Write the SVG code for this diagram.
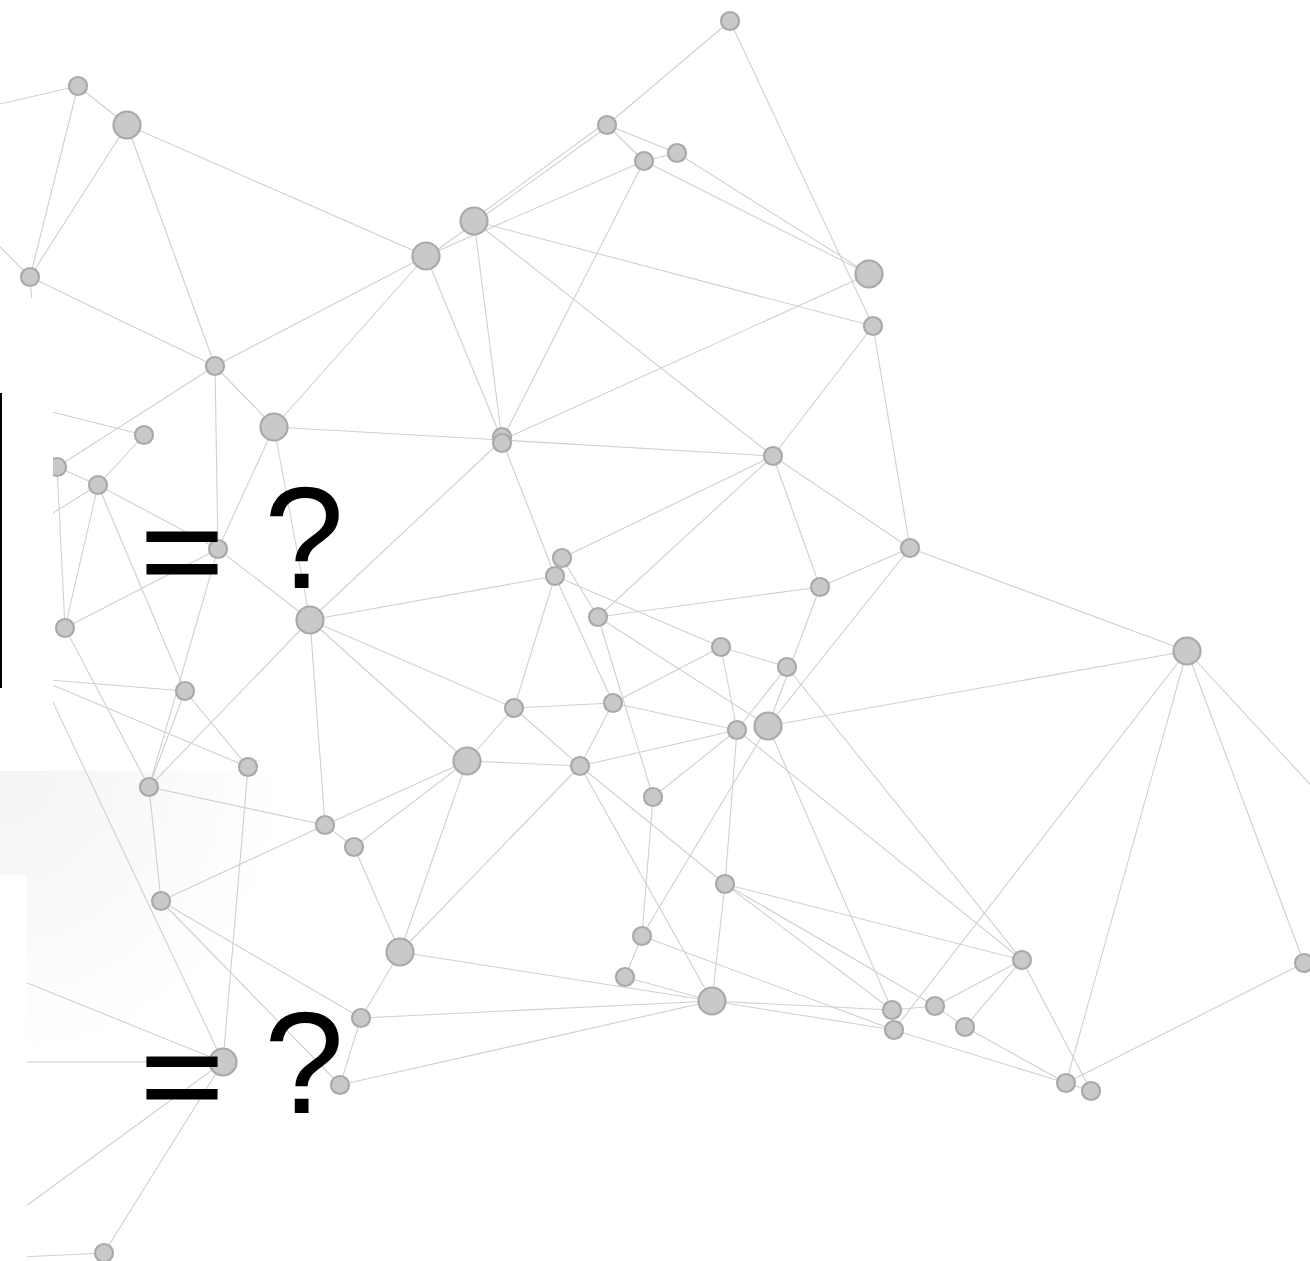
<svg xmlns="http://www.w3.org/2000/svg" width="1310" height="1261" viewBox="0 0 1310 1261">
<defs>
<radialGradient id="shade" gradientUnits="userSpaceOnUse" cx="0" cy="771" r="290">
<stop offset="0" stop-color="#f4f4f4"/>
<stop offset="0.5" stop-color="#f9f9f9"/>
<stop offset="1" stop-color="#ffffff"/>
</radialGradient>
</defs>
<style>
.e{stroke:#d0d0d0;stroke-width:1.1;fill:none}
.s{fill:#c9c9c9;stroke:#a9a9a9;stroke-width:2.2}
.t{font-family:"Liberation Sans",Arial,sans-serif;font-size:144px;fill:#000}
.eq{stroke:#000;stroke-width:1.2}
</style>
<rect width="1310" height="1261" fill="#fff"/>
<rect x="0" y="771" width="300" height="300" fill="url(#shade)"/>
<g id="connectors" class="e">
<line x1="730" y1="21" x2="607" y2="125"/>
<line x1="730" y1="21" x2="873" y2="326"/>
<line x1="873" y1="326" x2="910" y2="548"/>
<line x1="607" y1="125" x2="644" y2="161"/>
<line x1="607" y1="125" x2="677" y2="153"/>
<line x1="605" y1="123" x2="474" y2="219"/>
<line x1="607" y1="127" x2="426" y2="258"/>
<line x1="644" y1="161" x2="677" y2="153"/>
<line x1="644" y1="161" x2="426" y2="256"/>
<line x1="644" y1="161" x2="869" y2="274"/>
<line x1="677" y1="153" x2="869" y2="274"/>
<line x1="644" y1="161" x2="502" y2="440"/>
<line x1="474" y1="221" x2="873" y2="326"/>
<line x1="474" y1="221" x2="773" y2="456"/>
<line x1="474" y1="221" x2="502" y2="440"/>
<line x1="426" y1="256" x2="502" y2="440"/>
<line x1="869" y1="274" x2="502" y2="440"/>
<line x1="873" y1="326" x2="773" y2="456"/>
<line x1="502" y1="440" x2="773" y2="456"/>
<line x1="274" y1="427" x2="502" y2="440"/>
<line x1="502" y1="440" x2="310" y2="620"/>
<line x1="502" y1="440" x2="555" y2="576"/>
<line x1="773" y1="456" x2="562" y2="558"/>
<line x1="773" y1="456" x2="598" y2="617"/>
<line x1="773" y1="456" x2="820" y2="587"/>
<line x1="773" y1="456" x2="910" y2="548"/>
<line x1="910" y1="548" x2="820" y2="587"/>
<line x1="910" y1="548" x2="768" y2="726"/>
<line x1="910" y1="548" x2="1187" y2="651"/>
<line x1="562" y1="558" x2="598" y2="617"/>
<line x1="555" y1="576" x2="310" y2="620"/>
<line x1="555" y1="576" x2="514" y2="708"/>
<line x1="555" y1="576" x2="613" y2="703"/>
<line x1="555" y1="576" x2="721" y2="647"/>
<line x1="598" y1="617" x2="820" y2="587"/>
<line x1="598" y1="617" x2="768" y2="726"/>
<line x1="598" y1="617" x2="653" y2="797"/>
<line x1="721" y1="647" x2="787" y2="667"/>
<line x1="721" y1="647" x2="737" y2="730"/>
<line x1="721" y1="647" x2="613" y2="703"/>
<line x1="820" y1="587" x2="768" y2="726"/>
<line x1="787" y1="667" x2="737" y2="730"/>
<line x1="787" y1="667" x2="1022" y2="960"/>
<line x1="514" y1="708" x2="613" y2="703"/>
<line x1="514" y1="708" x2="467" y2="761"/>
<line x1="514" y1="708" x2="580" y2="766"/>
<line x1="613" y1="703" x2="580" y2="766"/>
<line x1="613" y1="703" x2="737" y2="730"/>
<line x1="467" y1="761" x2="580" y2="766"/>
<line x1="737" y1="730" x2="580" y2="766"/>
<line x1="737" y1="730" x2="653" y2="797"/>
<line x1="653" y1="797" x2="642" y2="936"/>
<line x1="737" y1="730" x2="725" y2="884"/>
<line x1="737" y1="730" x2="1022" y2="960"/>
<line x1="768" y1="726" x2="1187" y2="651"/>
<line x1="768" y1="726" x2="642" y2="936"/>
<line x1="768" y1="726" x2="892" y2="1010"/>
<line x1="310" y1="620" x2="514" y2="708"/>
<line x1="310" y1="620" x2="467" y2="761"/>
<line x1="467" y1="761" x2="325" y2="825"/>
<line x1="467" y1="761" x2="354" y2="847"/>
<line x1="467" y1="761" x2="400" y2="952"/>
<line x1="580" y1="766" x2="400" y2="952"/>
<line x1="580" y1="766" x2="712" y2="1001"/>
<line x1="580" y1="766" x2="725" y2="884"/>
<line x1="642" y1="936" x2="625" y2="977"/>
<line x1="642" y1="936" x2="894" y2="1030"/>
<line x1="625" y1="977" x2="712" y2="1001"/>
<line x1="725" y1="884" x2="712" y2="1001"/>
<line x1="725" y1="884" x2="1022" y2="960"/>
<line x1="725" y1="884" x2="892" y2="1010"/>
<line x1="725" y1="884" x2="935" y2="1006"/>
<line x1="400" y1="952" x2="712" y2="1001"/>
<line x1="400" y1="952" x2="361" y2="1018"/>
<line x1="354" y1="847" x2="400" y2="952"/>
<line x1="712" y1="1001" x2="361" y2="1018"/>
<line x1="361" y1="1018" x2="340" y2="1085"/>
<line x1="712" y1="1001" x2="340" y2="1085"/>
<line x1="161" y1="901" x2="361" y2="1018"/>
<line x1="161" y1="901" x2="340" y2="1085"/>
<line x1="325" y1="825" x2="354" y2="847"/>
<line x1="149" y1="787" x2="325" y2="825"/>
<line x1="325" y1="825" x2="161" y2="901"/>
<line x1="310" y1="620" x2="325" y2="825"/>
<line x1="712" y1="1001" x2="892" y2="1010"/>
<line x1="712" y1="1001" x2="894" y2="1030"/>
<line x1="894" y1="1030" x2="1066" y2="1083"/>
<line x1="892" y1="1010" x2="935" y2="1006"/>
<line x1="935" y1="1006" x2="965" y2="1027"/>
<line x1="935" y1="1006" x2="1022" y2="960"/>
<line x1="1022" y1="960" x2="965" y2="1027"/>
<line x1="965" y1="1027" x2="1066" y2="1083"/>
<line x1="1022" y1="960" x2="1091" y2="1091"/>
<line x1="1066" y1="1083" x2="1091" y2="1091"/>
<line x1="894" y1="1030" x2="1187" y2="651"/>
<line x1="1066" y1="1083" x2="1187" y2="651"/>
<line x1="1187" y1="651" x2="1304" y2="963"/>
<line x1="1187" y1="651" x2="1330" y2="806"/>
<line x1="1304" y1="963" x2="1066" y2="1083"/>
<line x1="78" y1="86" x2="0" y2="104"/>
<line x1="78" y1="86" x2="127" y2="125"/>
<line x1="78" y1="86" x2="30" y2="277"/>
<line x1="127" y1="125" x2="30" y2="277"/>
<line x1="127" y1="125" x2="215" y2="366"/>
<line x1="127" y1="125" x2="426" y2="256"/>
<line x1="30" y1="277" x2="0" y2="247"/>
<line x1="30" y1="277" x2="34" y2="330"/>
<line x1="30" y1="277" x2="215" y2="366"/>
<line x1="215" y1="366" x2="426" y2="256"/>
<line x1="215" y1="366" x2="274" y2="427"/>
<line x1="215" y1="366" x2="218" y2="549"/>
<line x1="215" y1="366" x2="57" y2="467"/>
<line x1="426" y1="256" x2="274" y2="427"/>
<line x1="0" y1="399" x2="144" y2="435"/>
<line x1="144" y1="435" x2="98" y2="485"/>
<line x1="57" y1="467" x2="98" y2="485"/>
<line x1="57" y1="467" x2="65" y2="628"/>
<line x1="98" y1="485" x2="0" y2="546"/>
<line x1="98" y1="485" x2="218" y2="549"/>
<line x1="98" y1="485" x2="185" y2="691"/>
<line x1="185" y1="691" x2="248" y2="767"/>
<line x1="98" y1="485" x2="65" y2="628"/>
<line x1="65" y1="628" x2="218" y2="549"/>
<line x1="218" y1="549" x2="274" y2="427"/>
<line x1="218" y1="549" x2="310" y2="620"/>
<line x1="274" y1="427" x2="310" y2="620"/>
<line x1="218" y1="549" x2="149" y2="787"/>
<line x1="310" y1="620" x2="149" y2="787"/>
<line x1="0" y1="676" x2="185" y2="691"/>
<line x1="0" y1="663" x2="248" y2="767"/>
<line x1="185" y1="691" x2="149" y2="787"/>
<line x1="65" y1="628" x2="149" y2="787"/>
<line x1="149" y1="787" x2="161" y2="901"/>
<line x1="248" y1="767" x2="223" y2="1062"/>
<line x1="0" y1="590" x2="223" y2="1062"/>
<line x1="0" y1="972" x2="223" y2="1062"/>
<line x1="0" y1="1062" x2="223" y2="1062"/>
<line x1="0" y1="1225" x2="223" y2="1062"/>
<line x1="104" y1="1253" x2="223" y2="1062"/>
<line x1="104" y1="1253" x2="0" y2="1258"/>
</g>
<g id="n1"><circle class="s" cx="730" cy="21" r="9"/></g>
<g id="n2"><circle class="s" cx="78" cy="86" r="9"/></g>
<g id="n3"><circle class="s" cx="127" cy="125" r="13.5"/></g>
<g id="n4"><circle class="s" cx="607" cy="125" r="9"/></g>
<g id="n5"><circle class="s" cx="644" cy="161" r="9"/></g>
<g id="n6"><circle class="s" cx="677" cy="153" r="9"/></g>
<g id="n7"><circle class="s" cx="474" cy="221" r="13.5"/></g>
<g id="n8"><circle class="s" cx="426" cy="256" r="13.5"/></g>
<g id="n9"><circle class="s" cx="869" cy="274" r="13.5"/></g>
<g id="n10"><circle class="s" cx="30" cy="277" r="9"/></g>
<g id="n11"><circle class="s" cx="873" cy="326" r="9"/></g>
<g id="n12"><circle class="s" cx="215" cy="366" r="9"/></g>
<g id="n13"><circle class="s" cx="144" cy="435" r="9"/></g>
<g id="n14"><circle class="s" cx="274" cy="427" r="13.5"/></g>
<g id="n15"><circle class="s" cx="502" cy="437" r="9"/><circle class="s" cx="502" cy="443" r="9"/></g>
<g id="n16"><circle class="s" cx="773" cy="456" r="9"/></g>
<g id="n17"><circle class="s" cx="57" cy="467" r="9"/></g>
<g id="n18"><circle class="s" cx="98" cy="485" r="9"/></g>
<g id="n19"><circle class="s" cx="218" cy="549" r="9"/></g>
<g id="n20"><circle class="s" cx="910" cy="548" r="9"/></g>
<g id="n21"><circle class="s" cx="562" cy="558" r="9"/></g>
<g id="n22"><circle class="s" cx="555" cy="576" r="9"/></g>
<g id="n23"><circle class="s" cx="310" cy="620" r="13.5"/></g>
<g id="n24"><circle class="s" cx="598" cy="617" r="9"/></g>
<g id="n25"><circle class="s" cx="820" cy="587" r="9"/></g>
<g id="n26"><circle class="s" cx="65" cy="628" r="9"/></g>
<g id="n27"><circle class="s" cx="721" cy="647" r="9"/></g>
<g id="n28"><circle class="s" cx="787" cy="667" r="9"/></g>
<g id="n29"><circle class="s" cx="1187" cy="651" r="13.5"/></g>
<g id="n30"><circle class="s" cx="185" cy="691" r="9"/></g>
<g id="n31"><circle class="s" cx="514" cy="708" r="9"/></g>
<g id="n32"><circle class="s" cx="613" cy="703" r="9"/></g>
<g id="n33"><circle class="s" cx="737" cy="730" r="9"/></g>
<g id="n34"><circle class="s" cx="768" cy="726" r="13.5"/></g>
<g id="n35"><circle class="s" cx="248" cy="767" r="9"/></g>
<g id="n36"><circle class="s" cx="467" cy="761" r="13.5"/></g>
<g id="n37"><circle class="s" cx="580" cy="766" r="9"/></g>
<g id="n38"><circle class="s" cx="149" cy="787" r="9"/></g>
<g id="n39"><circle class="s" cx="653" cy="797" r="9"/></g>
<g id="n40"><circle class="s" cx="325" cy="825" r="9"/></g>
<g id="n41"><circle class="s" cx="354" cy="847" r="9"/></g>
<g id="n42"><circle class="s" cx="725" cy="884" r="9"/></g>
<g id="n43"><circle class="s" cx="161" cy="901" r="9"/></g>
<g id="n44"><circle class="s" cx="400" cy="952" r="13.5"/></g>
<g id="n45"><circle class="s" cx="642" cy="936" r="9"/></g>
<g id="n46"><circle class="s" cx="625" cy="977" r="9"/></g>
<g id="n47"><circle class="s" cx="1022" cy="960" r="9"/></g>
<g id="n48"><circle class="s" cx="1304" cy="963" r="9"/></g>
<g id="n49"><circle class="s" cx="712" cy="1001" r="13.5"/></g>
<g id="n50"><circle class="s" cx="361" cy="1018" r="9"/></g>
<g id="n51"><circle class="s" cx="892" cy="1010" r="9"/></g>
<g id="n52"><circle class="s" cx="935" cy="1006" r="9"/></g>
<g id="n53"><circle class="s" cx="894" cy="1030" r="9"/></g>
<g id="n54"><circle class="s" cx="965" cy="1027" r="9"/></g>
<g id="n55"><circle class="s" cx="223" cy="1062" r="13.5"/></g>
<g id="n56"><circle class="s" cx="340" cy="1085" r="9"/></g>
<g id="n57"><circle class="s" cx="1066" cy="1083" r="9"/></g>
<g id="n58"><circle class="s" cx="1091" cy="1091" r="9"/></g>
<g id="n59"><circle class="s" cx="104" cy="1253" r="9"/></g>
<g id="cover">
<rect x="0" y="298" width="53" height="473" fill="#fff"/>
<rect x="0" y="875" width="27" height="386" fill="#fff"/>
<rect x="0" y="393" width="2" height="295" fill="#000"/>
</g>
<g id="labels">
<text class="t eq" x="140" y="601" transform="translate(0,551) scale(1,0.9) translate(0,-551)">=</text>
<text class="t" x="264" y="588">?</text>
<text class="t eq" x="140" y="1126" transform="translate(0,1076) scale(1,0.9) translate(0,-1076)">=</text>
<text class="t" x="264" y="1113">?</text>
</g>
</svg>
